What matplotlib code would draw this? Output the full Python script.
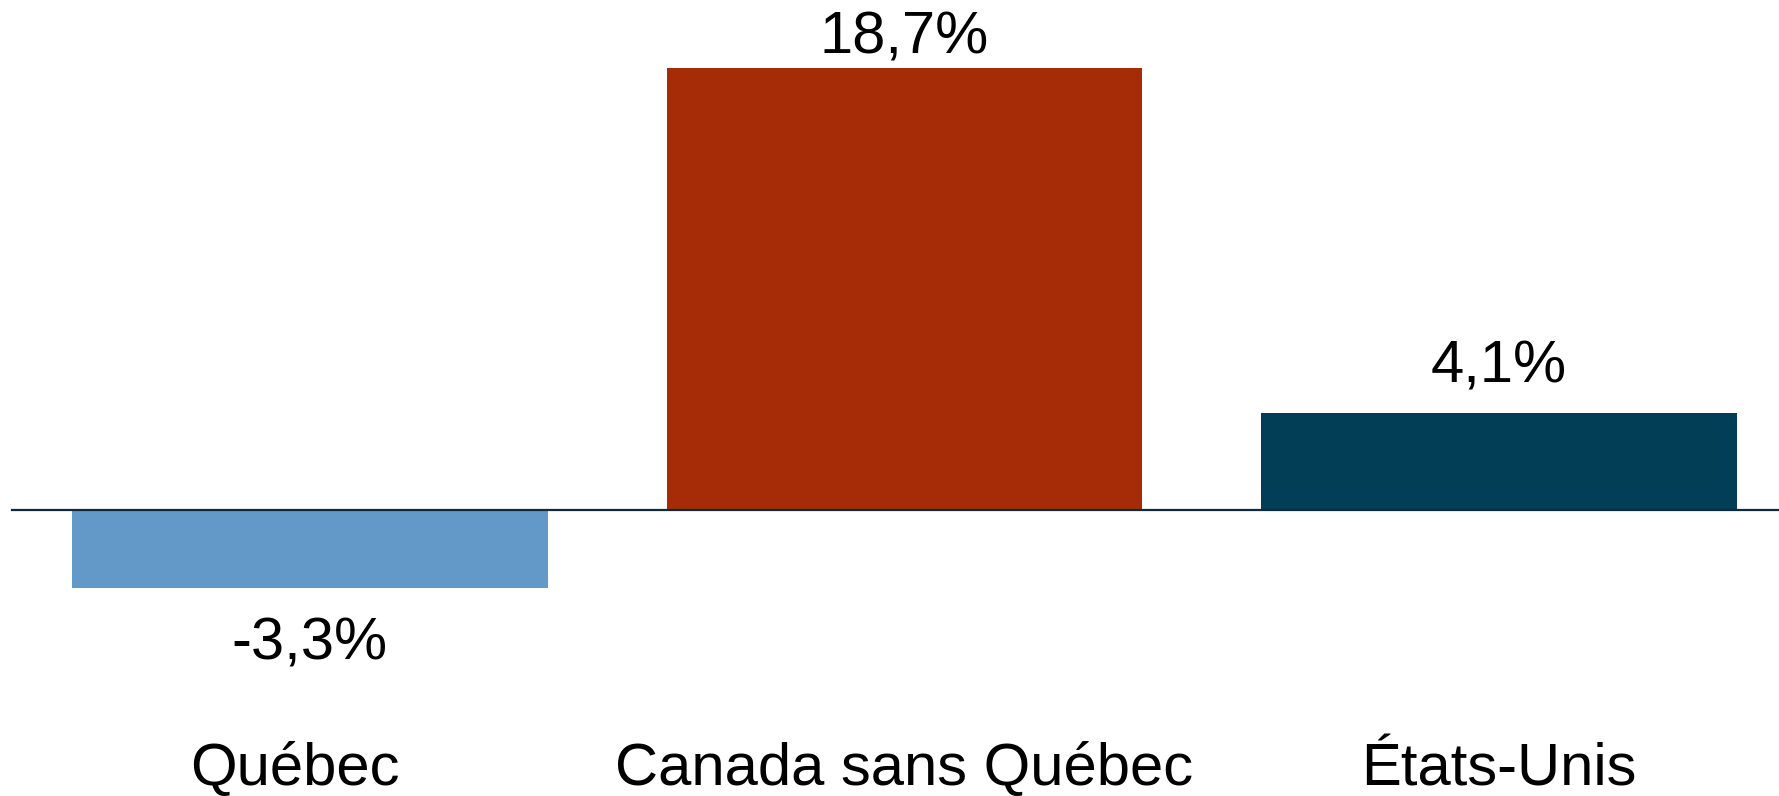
import matplotlib.pyplot as plt
import numpy as np

# Données
categories = ['Québec', 'Canada sans Québec', 'États-Unis']
valeurs = [-3.3, 18.7, 4.1]
etiquettes = ['-3,3%', '18,7%', '4,1%']
couleurs = ['#6399C8', '#A52C07', '#023F57']

plt.rcParams['font.family'] = ['Liberation Sans', 'DejaVu Sans']

fig = plt.figure(figsize=(17.79, 7.96), dpi=100)
ax = fig.add_axes([0, 0, 1, 1])

x = np.arange(len(categories))
ax.bar(x, valeurs, width=0.8, color=couleurs, zorder=2)

# Ligne du zéro
ax.axhline(0, xmin=0.0068, xmax=1, color='#0d2b3b', linewidth=1.6, zorder=3)

ax.set_xlim(-0.521, 2.471)
ax.set_ylim(-12.09, 21.56)

# Étiquettes des valeurs
for xi, v, txt in zip(x, valeurs, etiquettes):
    if v >= 0:
        y = min(v + 1.27, 19.31)
    else:
        y = v - 3.04
    ax.text(xi, y, txt, ha='center', va='baseline', fontsize=43, color='black')

# Étiquettes des catégories (petit décalage pour la première)
decalage = [-0.025, 0, 0]
for xi, cat, d in zip(x, categories, decalage):
    ax.text(xi + d, -11.63, cat, ha='center', va='baseline', fontsize=43, color='black')

ax.axis('off')

plt.savefig('out.png', dpi=100)
